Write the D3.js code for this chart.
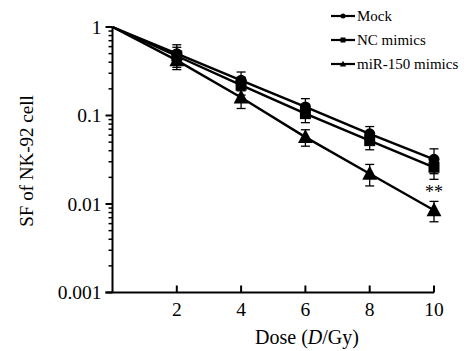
<!DOCTYPE html>
<html>
<head>
<meta charset="utf-8">
<script src="https://cdn.jsdelivr.net/npm/d3@7"></script>
<style>
  body { margin: 0; background: #fff; }
  text { font-family: "Times New Roman", Times, "Liberation Serif", serif; fill: #000; }
</style>
</head>
<body>
<svg id="chart" width="469" height="351"></svg>
<script>
// data
const doses = [0, 2, 4, 6, 8, 10];
const mock = [1, 0.50, 0.25, 0.125, 0.062, 0.032];
const mockSd = [0, 0.13, 0.06, 0.03, 0.013, 0.010];
const ncMimics = [1, 0.47, 0.22, 0.105, 0.052, 0.026];
const ncSd = [0, 0.12, 0.05, 0.022, 0.011, 0.007];
const mirMimics = [1, 0.42, 0.16, 0.057, 0.022, 0.0085];
const mirSd = [0, 0.09, 0.04, 0.012, 0.006, 0.0022];
const seriesNames = ["Mock", "NC mimics", "miR-150 mimics"];
const xTicks = [2, 4, 6, 8, 10];
const yTicks = [1, 0.1, 0.01, 0.001];

const svg = d3.select("#chart");
const x = d3.scaleLinear().domain([0, 10]).range([112.5, 434]);
const y = d3.scaleLog().domain([0.001, 1]).range([292.5, 27]);

const series = [
  { name: seriesNames[0], vals: mock, sd: mockSd, shape: "circle" },
  { name: seriesNames[1], vals: ncMimics, sd: ncSd, shape: "square" },
  { name: seriesNames[2], vals: mirMimics, sd: mirSd, shape: "triangle" }
];

// y axis with minor ticks
const minor = [];
[0.001, 0.01, 0.1].forEach((d) => {
  for (let k = 2; k <= 9; k++) minor.push(d * k);
});
const yAxisG = svg.append("g").attr("transform", `translate(${x(0)},0)`);
yAxisG.append("line")
  .attr("y1", y(0.001)).attr("y2", y(1))
  .attr("stroke", "#000").attr("stroke-width", 2);
yAxisG.selectAll(".minor").data(minor).join("line")
  .attr("x1", -4).attr("x2", 0)
  .attr("y1", (d) => y(d)).attr("y2", (d) => y(d))
  .attr("stroke", "#000").attr("stroke-width", 1.5);
yAxisG.selectAll(".major").data(yTicks).join("line")
  .attr("x1", -7).attr("x2", 0)
  .attr("y1", (d) => y(d)).attr("y2", (d) => y(d))
  .attr("stroke", "#000").attr("stroke-width", 2);
yAxisG.selectAll(".ylab").data(yTicks).join("text")
  .attr("x", -11).attr("y", (d) => y(d))
  .attr("dy", "0.35em")
  .attr("text-anchor", "end")
  .style("font-size", "19.5px")
  .text((d) => String(d));

// x axis, ticks point inward
const xAxisG = svg.append("g").attr("transform", `translate(0,${y(0.001)})`);
xAxisG.append("line")
  .attr("x1", x(0) - 7).attr("x2", x(10))
  .attr("stroke", "#000").attr("stroke-width", 2);
xAxisG.selectAll(".xt").data(xTicks).join("line")
  .attr("x1", (d) => x(d)).attr("x2", (d) => x(d))
  .attr("y1", -7).attr("y2", 0)
  .attr("stroke", "#000").attr("stroke-width", 2);
xAxisG.selectAll(".xlab").data(xTicks).join("text")
  .attr("x", (d) => x(d)).attr("y", 23)
  .attr("text-anchor", "middle")
  .style("font-size", "19.5px")
  .text((d) => d);

// axis titles
const xTitle = svg.append("text")
  .attr("x", 307).attr("y", 344)
  .attr("text-anchor", "middle")
  .style("font-size", "20px");
xTitle.append("tspan").text("Dose (");
xTitle.append("tspan").style("font-style", "italic").text("D");
xTitle.append("tspan").text("/Gy)");

svg.append("text")
  .attr("transform", "translate(33,161) rotate(-90)")
  .attr("text-anchor", "middle")
  .style("font-size", "19px")
  .text("SF of NK-92 cell");

function marker(g, shape, size) {
  if (shape === "circle") {
    g.append("circle").attr("r", size / 2).attr("fill", "#000");
  } else if (shape === "square") {
    g.append("rect")
      .attr("x", -size / 2).attr("y", -size / 2)
      .attr("width", size).attr("height", size)
      .attr("fill", "#000");
  } else {
    const h = size * 1.1;
    g.append("path")
      .attr("d", `M0,${-h * 0.6}L${size * 0.62},${h * 0.45}L${-size * 0.62},${h * 0.45}Z`)
      .attr("fill", "#000");
  }
}

const line = d3.line()
  .x((d) => x(d[0]))
  .y((d) => y(d[1]));

series.forEach((s) => {
  const pts = doses.map((d, i) => [d, s.vals[i], s.sd[i]]);
  svg.append("path")
    .datum(pts)
    .attr("d", line)
    .attr("fill", "none")
    .attr("stroke", "#000")
    .attr("stroke-width", 2.4);

  const errs = pts.filter((p) => p[2] > 0);
  const eg = svg.append("g");
  eg.selectAll(".eb").data(errs).join("line")
    .attr("x1", (d) => x(d[0])).attr("x2", (d) => x(d[0]))
    .attr("y1", (d) => y(d[1] + d[2])).attr("y2", (d) => y(d[1] - d[2]))
    .attr("stroke", "#000").attr("stroke-width", 1.3);
  eg.selectAll(".capT").data(errs).join("line")
    .attr("x1", (d) => x(d[0]) - 4.5).attr("x2", (d) => x(d[0]) + 4.5)
    .attr("y1", (d) => y(d[1] + d[2])).attr("y2", (d) => y(d[1] + d[2]))
    .attr("stroke", "#000").attr("stroke-width", 1.3);
  eg.selectAll(".capB").data(errs).join("line")
    .attr("x1", (d) => x(d[0]) - 4.5).attr("x2", (d) => x(d[0]) + 4.5)
    .attr("y1", (d) => y(d[1] - d[2])).attr("y2", (d) => y(d[1] - d[2]))
    .attr("stroke", "#000").attr("stroke-width", 1.3);

  errs.forEach((p) => {
    const g = svg.append("g").attr("transform", `translate(${x(p[0])},${y(p[1])})`);
    marker(g, s.shape, s.shape === "triangle" ? 12 : 11);
  });
});

// significance mark
svg.append("text")
  .attr("x", x(10)).attr("y", y(mirMimics[5] + mirSd[5]) - 3)
  .attr("text-anchor", "middle")
  .style("font-size", "18px")
  .text("**");

// legend
const legendY = [16, 40, 64];
const lg = svg.append("g");
series.forEach((s, i) => {
  lg.append("line")
    .attr("x1", 331).attr("x2", 355)
    .attr("y1", legendY[i]).attr("y2", legendY[i])
    .attr("stroke", "#000").attr("stroke-width", 2.2);
  const m = lg.append("g").attr("transform", `translate(343,${legendY[i]})`);
  marker(m, s.shape, 5);
  lg.append("text")
    .attr("x", 357).attr("y", legendY[i] + 5)
    .style("font-size", "15px")
    .text(s.name);
});
</script>
</body>
</html>
